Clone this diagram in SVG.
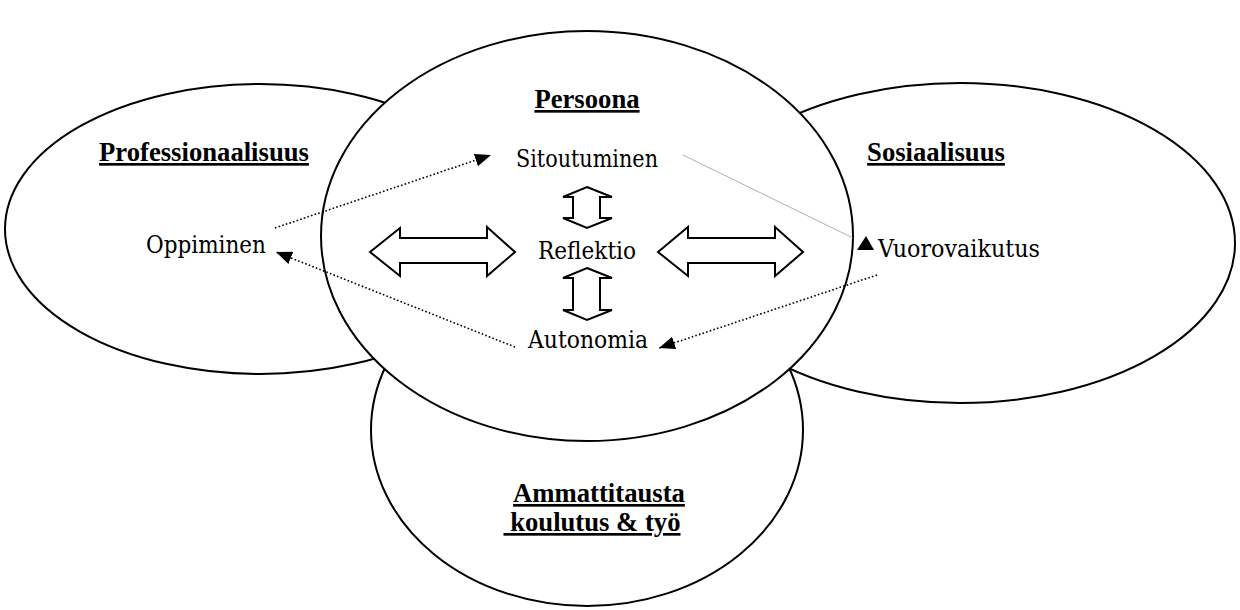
<svg xmlns="http://www.w3.org/2000/svg" width="1240" height="610" viewBox="0 0 1240 610">
  <style>
    .title { font-family: "Liberation Serif", "Times New Roman", serif; font-size: 26.67px; font-weight: bold; text-decoration: underline; fill: #000; }
    .label { font-family: "DejaVu Serif", "Liberation Serif", serif; font-size: 24px; fill: #000; }
    .area { fill: #ffffff; stroke: #000000; stroke-width: 2; }
    .block { fill: #ffffff; stroke: #000000; stroke-width: 2; stroke-linejoin: miter; }
    .dotted { fill: none; stroke: #000; stroke-width: 1.6; stroke-dasharray: 1.6 2.2; }
    .thin { fill: none; stroke: #9a9a9a; stroke-width: 0.8; }
    .head { fill: #000; }
  </style>
  <defs>
    <marker id="tri" viewBox="0 0 10 10" refX="10" refY="5" markerWidth="16" markerHeight="13" markerUnits="userSpaceOnUse" orient="auto" preserveAspectRatio="none">
      <path d="M0,0 L10,5 L0,10 z" fill="#000"/>
    </marker>
  </defs>
  <rect width="1240" height="610" fill="#ffffff"/>

  <!-- background circles, back to front -->
  <g id="ammattitausta">
    <ellipse class="area" cx="587" cy="430" rx="216" ry="176"/>
    <text class="title" x="599" y="502" text-anchor="middle">Ammattitausta</text>
    <text class="title" x="592" y="531" text-anchor="middle" xml:space="preserve"> koulutus &amp; työ</text>
  </g>
  <g id="professionaalisuus">
    <ellipse class="area" cx="260" cy="229" rx="255" ry="145"/>
  </g>
  <g id="sosiaalisuus">
    <ellipse class="area" cx="960" cy="243" rx="275" ry="160"/>
  </g>
  <g id="persoona">
    <ellipse class="area" cx="587" cy="236" rx="266" ry="205"/>
    <text class="title" x="587" y="108" text-anchor="middle">Persoona</text>
  </g>

  <!-- labels of the side areas sit above the central circle outline -->
  <g id="professionaalisuus-labels">
    <text class="title" x="204" y="161" text-anchor="middle">Professionaalisuus</text>
    <text class="label" x="146" y="253" textLength="120" lengthAdjust="spacingAndGlyphs">Oppiminen</text>
  </g>
  <g id="sosiaalisuus-labels">
    <text class="title" x="936" y="161" text-anchor="middle">Sosiaalisuus</text>
    <text class="label" x="878" y="257" textLength="162" lengthAdjust="spacingAndGlyphs">Vuorovaikutus</text>
  </g>

  <g id="sitoutuminen"><text class="label" x="516" y="167" textLength="142" lengthAdjust="spacingAndGlyphs">Sitoutuminen</text></g>
  <g id="reflektio"><text class="label" x="538" y="259" textLength="98" lengthAdjust="spacingAndGlyphs">Reflektio</text></g>
  <g id="autonomia"><text class="label" x="528" y="348" textLength="120" lengthAdjust="spacingAndGlyphs">Autonomia</text></g>

  <!-- double block arrows around Reflektio -->
  <g id="block-arrows">
    <polygon class="block" points="370,252 400,228 400,238 487,238 487,227 515,252 487,276 487,263 400,263 400,276"/>
    <polygon class="block" points="658,252 688,227 688,238 775,238 775,227 803,252 775,276 775,263 688,263 688,276"/>
    <polygon class="block" points="587,187 612,197 600,197 600,218 612,218 587,228 563,218 573,218 573,197 563,197"/>
    <polygon class="block" points="587,268 612,278 600,278 600,310 612,310 587,320 563,310 573,310 573,278 563,278"/>
  </g>

  <!-- connectors -->
  <g id="connectors">
    <line class="dotted" x1="275" y1="228" x2="491" y2="155" marker-end="url(#tri)"/>
    <line class="dotted" x1="515" y1="347" x2="276" y2="252" marker-end="url(#tri)"/>
    <line class="dotted" x1="877" y1="275" x2="659" y2="348" marker-end="url(#tri)"/>
    <line class="thin" x1="683" y1="155" x2="853" y2="238"/>
    <polygon class="head" points="857,250 866,236 874,250"/>
  </g>
</svg>
